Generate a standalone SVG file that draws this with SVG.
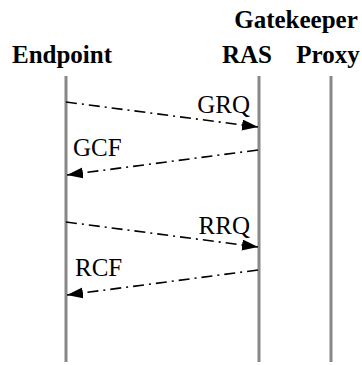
<svg xmlns="http://www.w3.org/2000/svg" width="362" height="365" viewBox="0 0 362 365">
<style>
text{font-family:'Liberation Serif','Times New Roman',serif;fill:#000}
.title{font-weight:bold;font-size:25px}
.lbl{font-weight:normal;font-size:25px}
.life{stroke:#888;stroke-width:3;fill:none}
.msg{stroke:#000;stroke-width:1.6;fill:none;stroke-dasharray:11,5,2,5;marker-end:url(#ah)}
</style>
<defs>
<marker id="ah" markerUnits="userSpaceOnUse" markerWidth="17" markerHeight="12" refX="16" refY="5.5" orient="auto">
<path d="M0,0 L16,5.5 L0,11 z" fill="#000"/>
</marker>
</defs>
<rect width="362" height="365" fill="#fff"/>
<g id="endpoint">
<text class="title" x="62" y="63" text-anchor="middle">Endpoint</text>
<line class="life" x1="66" y1="76" x2="66" y2="362"/>
</g>
<g id="ras">
<text class="title" x="296" y="28" text-anchor="middle">Gatekeeper</text>
<text class="title" x="247" y="63" text-anchor="middle">RAS</text>
<line class="life" x1="259" y1="76" x2="259" y2="362"/>
</g>
<g id="proxy">
<text class="title" x="328" y="63" text-anchor="middle">Proxy</text>
<line class="life" x1="331" y1="76" x2="331" y2="362"/>
</g>
<g id="connectors">
<line class="msg" x1="66" y1="102" x2="258" y2="127"/>
<text class="lbl" x="250" y="113" text-anchor="end">GRQ</text>
<line class="msg" x1="258" y1="150" x2="67" y2="175"/>
<text class="lbl" x="73" y="156">GCF</text>
<line class="msg" x1="66" y1="222" x2="258" y2="247"/>
<text class="lbl" x="250" y="234" text-anchor="end">RRQ</text>
<line class="msg" x1="258" y1="270" x2="67" y2="295"/>
<text class="lbl" x="75" y="276">RCF</text>
</g>
</svg>
